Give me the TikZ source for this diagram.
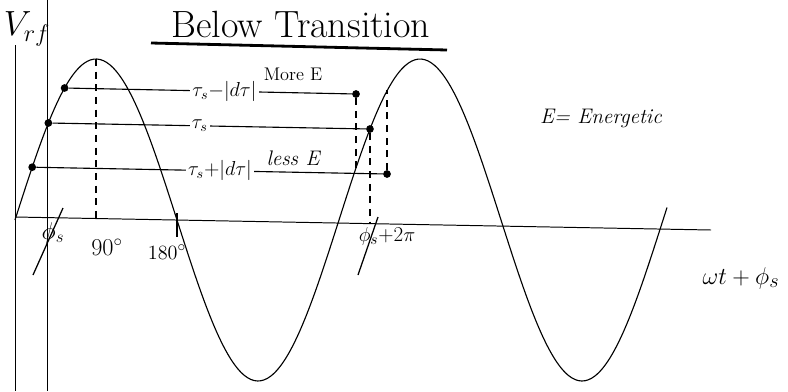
\documentclass[tikz,border=0pt]{standalone}
\usepackage{amsmath}
\usetikzlibrary{positioning, calc}
\tikzset{
    dot/.style={circle, fill=black, inner sep=0pt, minimum size=5.5pt},
    axisline/.style={draw, line width=0.7pt, black},
    level/.style={draw, line width=0.8pt, black},
    guide/.style={draw, line width=0.8pt, dash pattern=on 5pt off 4pt},
    tickmark/.style={draw, line width=0.9pt, black},
    lbl/.style={font=\fontsize{14}{16}\selectfont, fill=white, inner sep=1.5pt},
    hand/.style={font=\fontsize{15}{18}\selectfont\itshape}
}

\begin{document}
\begin{tikzpicture}
\useasboundingbox (-0.375,-4.275) rectangle (19.325,5.5);

% Axes
\coordinate (ytop) at (0,4.375);
\coordinate (ybot) at (0,-4.275);
\coordinate (xbeg) at (0,0.075);
\coordinate (xend) at (17.4,-0.25);
\coordinate (phtop) at (0.8,5.5);
\coordinate (phbot) at (0.8,-4.275);
\draw[axisline] (ytop) -- (ybot);
\draw[axisline] (xbeg) -- (xend);
\draw[axisline] (phtop) -- (phbot);
\node[font=\fontsize{26}{28}\selectfont] (vrf) at (0.3,4.78) {$V_{rf}$};

% RF wave
\draw[line width=0.8pt, domain=0:16.3, samples=200, smooth] plot (\x, {4.025*sin(44.444*\x)});

% Title
\node[font=\fontsize{27}{30}\selectfont] (title) at (7.15,4.9) {Below Transition};
\coordinate (ul1) at (3.4,4.425);
\coordinate (ul2) at (10.8,4.25);
\draw[line width=2pt] (ul1) -- (ul2);

% Particles
\node[dot] (upL) at (1.24,3.3) {};
\node[dot] (midL) at (0.834,2.425) {};
\node[dot] (lowL) at (0.43,1.32) {};
\node[dot] (upR) at (8.525,3.15) {};
\node[dot] (midR) at (8.874,2.275) {};
\node[dot] (lowR) at (9.3,1.15) {};

\draw[level] (upL) -- node[lbl, pos=0.55] {$\tau_s{-}|d\tau|$} (upR);
\draw[level] (midL) -- node[lbl, pos=0.47] {$\tau_s$} (midR);
\draw[level] (lowL) -- node[lbl, pos=0.53] {$\tau_s{+}|d\tau|$} (lowR);

\node[font=\fontsize{13}{15}\selectfont] (more) at (6.95,3.65) {More E};
\node[hand] (less) at (6.95,1.55) {less E};
\node[hand] (energ) at (14.65,2.55) {E= Energetic};
\node[font=\fontsize{19}{21}\selectfont] (phase) at (18.15,-1.45) {$\omega t+\phi_s$};

% Guides
\coordinate (peak) at (2.025,4.025);
\coordinate (peakF) at (2.025,0.04);
\coordinate (upF) at (8.525,1.303);
\coordinate (midF) at (8.874,-0.08);
\coordinate (lowF) at (9.3,3.24);
\draw[guide] (peak) -- (peakF);
\draw[guide] (upR) -- (upF);
\draw[guide] (midR) -- (midF);
\draw[guide] (lowR) -- (lowF);

% Phase marks
\coordinate (t180a) at (4.05,0.175);
\coordinate (t180b) at (4.05,-0.425);
\coordinate (ps1a) at (1.2,0.3);
\coordinate (ps1b) at (0.45,-1.375);
\coordinate (ps2a) at (9.075,0.075);
\coordinate (ps2b) at (8.575,-1.375);
\draw[tickmark, line width=1.5pt] (t180a) -- (t180b);
\draw[tickmark] (ps1a) -- (ps1b);
\draw[tickmark] (ps2a) -- (ps2b);

\node[font=\fontsize{17}{19}\selectfont] (ph1) at (0.95,-0.33) {$\phi_s$};
\node[font=\fontsize{17}{19}\selectfont] (ninety) at (2.3,-0.68) {$90^\circ$};
\node[font=\fontsize{15}{17}\selectfont] (oneeighty) at (3.8,-0.8) {$180^\circ$};
\node[font=\fontsize{15}{17}\selectfont] (ph2) at (9.3,-0.4) {$\phi_s$+2$\pi$};
\end{tikzpicture}
\end{document}
